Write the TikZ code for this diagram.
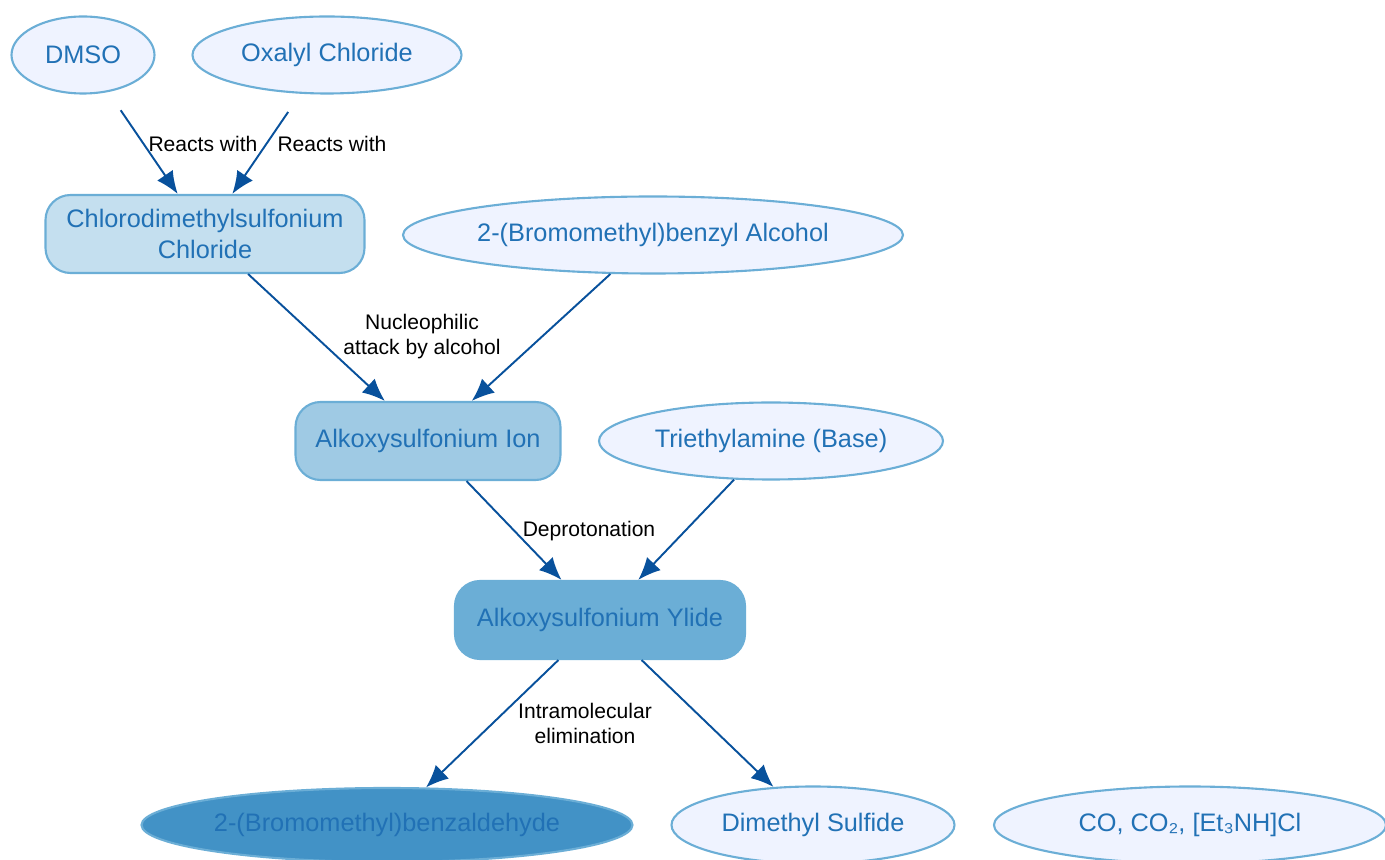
\documentclass[tikz,border=0pt]{standalone}
\usepackage{fontspec}
\setmainfont{Liberation Sans}
\usepackage{tikz}
\usetikzlibrary{shapes.geometric,arrows.meta}

\definecolor{txtblue}{HTML}{2171B5}
\definecolor{lineblue}{HTML}{6BAED6}
\definecolor{paleblue}{HTML}{EFF3FF}
\definecolor{midblue}{HTML}{4292C6}
\definecolor{arrowblue}{HTML}{08519C}

\begin{document}
\begin{tikzpicture}[
  reagent/.style={ellipse, draw=lineblue, line width=0.6pt, fill=paleblue, text=txtblue,
    inner sep=0pt, minimum height=0.77cm, font=\fontsize{7.2}{8.8}\selectfont},
  inter/.style={rectangle, rounded corners=0.25cm, draw=lineblue, line width=0.6pt, text=txtblue,
    inner sep=0pt, minimum height=0.78cm, align=center, font=\fontsize{7.2}{8.8}\selectfont},
  flow/.style={-{Latex[length=6.4pt,width=5.4pt]}, draw=arrowblue, line width=0.55pt},
  steplabel/.style={align=center, font=\fontsize{6}{7.1}\selectfont}
]
\useasboundingbox (0,0) rectangle (13.85,8.60);

\node[reagent, minimum width=1.43cm] (dmso) at (0.83,8.05) {DMSO};
\node[reagent, minimum width=2.69cm] (oxalyl) at (3.27,8.05) {Oxalyl Chloride};
\node[inter, fill=lineblue!40, minimum width=3.19cm] (chloro) at (2.05,6.26) {Chlorodimethylsulfonium\\Chloride};
\node[reagent, minimum width=5.00cm] (alcohol) at (6.53,6.25) {2-(Bromomethyl)benzyl Alcohol};
\node[inter, fill=lineblue!65, minimum width=2.65cm] (ion) at (4.28,4.19) {Alkoxysulfonium Ion};
\node[reagent, minimum width=3.44cm] (tea) at (7.71,4.19) {Triethylamine (Base)};
\node[inter, fill=lineblue, minimum width=2.90cm] (ylide) at (6.00,2.40) {Alkoxysulfonium Ylide};
\node[reagent, fill=midblue, draw=lineblue, minimum width=4.91cm, minimum height=0.74cm] (aldehyde) at (3.87,0.35) {2-(Bromomethyl)benzaldehyde};
\node[reagent, minimum width=2.83cm] (dms) at (8.13,0.35) {Dimethyl Sulfide};
\node[reagent, minimum width=3.92cm] (byprod) at (11.90,0.35) {CO, CO₂, [Et₃NH]Cl};

\draw[flow, shorten <=0.22cm] (dmso) -- (chloro);
\draw[flow, shorten <=0.22cm] (oxalyl) -- (chloro);
\draw[flow] (chloro) -- (ion);
\draw[flow] (alcohol) -- (ion);
\draw[flow] (ion) -- (ylide);
\draw[flow] (tea) -- (ylide);
\draw[flow] (ylide) -- (aldehyde);
\draw[flow] (ylide) -- (dms);

\node[steplabel] (react1) at (2.03,7.16) {Reacts with};
\node[steplabel] (react2) at (3.32,7.16) {Reacts with};
\node[steplabel] (attack) at (4.22,5.23) {Nucleophilic\\attack by alcohol};
\node[steplabel] (deprot) at (5.89,3.29) {Deprotonation};
\node[steplabel] (elim) at (5.85,1.37) {Intramolecular\\elimination};
\end{tikzpicture}
\end{document}
